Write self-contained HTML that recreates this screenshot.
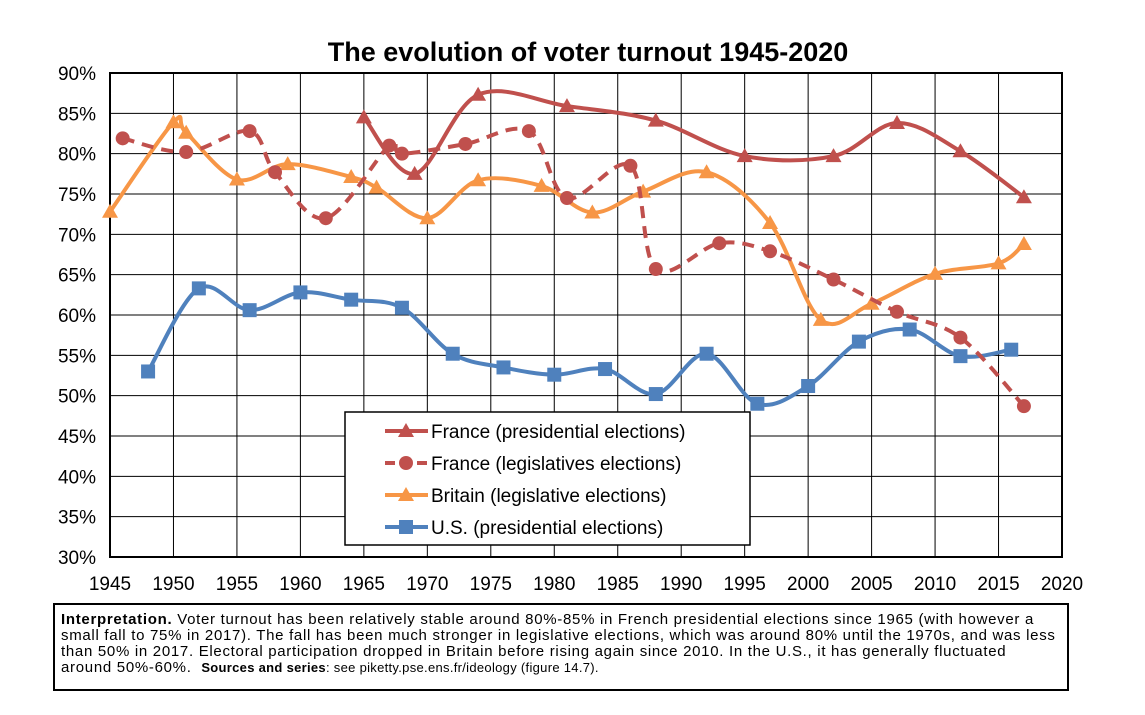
<!DOCTYPE html>
<html><head><meta charset="utf-8"><style>
body{margin:0;background:#fff;font-family:"Liberation Sans",Arial,sans-serif}
#wrap{position:relative;width:1145px;height:715px}
#note{position:absolute;left:53px;top:603px;width:1000px;height:74px;border:2px solid #000;padding:7px 6px 3px 6px;font-size:15px;line-height:16px;color:#000;white-space:nowrap;letter-spacing:0.7px}
</style></head><body>
<div id="wrap">
<svg id="chart" width="1145" height="600" style="position:absolute;left:0;top:0"></svg>
<div id="note"><b>Interpretation.</b> Voter turnout has been relatively stable around 80%-85% in French presidential elections since 1965 (with however a<br>small fall to 75% in 2017). The fall has been much stronger in legislative elections, which was around 80% until the 1970s, and was less<br>than 50% in 2017. Electoral participation dropped in Britain before rising again since 2010. In the U.S., it has generally fluctuated<br>around 50%-60%. &nbsp;<b style="font-size:13px;letter-spacing:0.3px">Sources and series</b><span style="font-size:13px;letter-spacing:0.3px">: see piketty.pse.ens.fr/ideology (figure 14.7).</span></div>
</div>
<script>
const frPresYears=[1965,1969,1974,1981,1988,1995,2002,2007,2012,2017];
const frPresVals=[84.5,77.5,87.3,85.9,84.1,79.7,79.7,83.8,80.3,74.6];
const frLegYears=[1946,1951,1956,1958,1962,1967,1968,1973,1978,1981,1986,1988,1993,1997,2002,2007,2012,2017];
const frLegVals=[81.9,80.2,82.8,77.7,72.0,81.0,80.0,81.2,82.8,74.5,78.5,65.7,68.9,67.9,64.4,60.4,57.2,48.7];
const brYears=[1945,1950,1951,1955,1959,1964,1966,1970,1974,1979,1983,1987,1992,1997,2001,2005,2010,2015,2017];
const brVals=[72.8,83.9,82.6,76.8,78.7,77.1,75.8,72.0,76.7,76.0,72.7,75.3,77.7,71.4,59.4,61.4,65.1,66.4,68.8];
const usYears=[1948,1952,1956,1960,1964,1968,1972,1976,1980,1984,1988,1992,1996,2000,2004,2008,2012,2016];
const usVals=[53.0,63.3,60.6,62.8,61.9,60.9,55.2,53.5,52.6,53.3,50.2,55.2,49.0,51.2,56.7,58.2,54.9,55.7];
const xTicks=[1945,1950,1955,1960,1965,1970,1975,1980,1985,1990,1995,2000,2005,2010,2015,2020];
const yTicks=[30,35,40,45,50,55,60,65,70,75,80,85,90];
const NS='http://www.w3.org/2000/svg';
const svg=document.getElementById('chart');
const X0=110,X1=1062,Y0=557,Y1=73;
const x=v=>X0+(v-1945)/(2020-1945)*(X1-X0);
const y=v=>Y0-(v-30)/(90-30)*(Y0-Y1);
function mk(t,a,p){const e=document.createElementNS(NS,t);for(const k in a)e.setAttribute(k,a[k]);(p||svg).appendChild(e);return e;}
yTicks.forEach(t=>{
 const l=mk('line',{x1:X0,x2:X1,y1:y(t),y2:y(t),stroke:'#000','stroke-width':1});
 
 
 const tx=mk('text',{x:96,y:y(t)+7,'text-anchor':'end','font-size':19});
 tx.textContent=t+'%';
 
 
});
xTicks.forEach(t=>{
 const l=mk('line',{x1:x(t),x2:x(t),y1:Y1,y2:Y0,stroke:'#000','stroke-width':1});
 
 
 const tx=mk('text',{x:x(t),y:590,'text-anchor':'middle','font-size':19});
 tx.textContent=t;
 
 
});
const fr=mk('rect',{x:X0,y:Y1,width:X1-X0,height:Y0-Y1,fill:'none',stroke:'#000','stroke-width':2});


const title=mk('text',{x:588,y:61,'text-anchor':'middle','font-size':27,'font-weight':'bold'});
title.textContent='The evolution of voter turnout 1945-2020';


function curve(pts){
 let d='M'+pts[0][0]+','+pts[0][1];
 for(let i=0;i<pts.length-1;i++){
  const p0=pts[i-1]||pts[i],p1=pts[i],p2=pts[i+1],p3=pts[i+2]||p2;
  const c1=[p1[0]+(p2[0]-p0[0])/6,p1[1]+(p2[1]-p0[1])/6];
  const c2=[p2[0]-(p3[0]-p1[0])/6,p2[1]-(p3[1]-p1[1])/6];
  d+=' C'+c1+' '+c2+' '+p2;
 }
 return d;
}
function marker(shape,cx,cy,col,name){
 let e;
 if(shape==='tri')e=mk('polygon',{points:`${cx},${cy-8} ${cx-8},${cy+6} ${cx+8},${cy+6}`,fill:col});
 else if(shape==='circ')e=mk('circle',{cx:cx,cy:cy,r:7,fill:col});
 else e=mk('rect',{x:cx-7,y:cy-7,width:14,height:14,fill:col});
 
 
}
function series(ys,vs,col,shape,dash,name){
 const pts=ys.map((t,i)=>[x(t),y(vs[i])]);
 const p=mk('path',{d:curve(pts),fill:'none',stroke:col,'stroke-width':4,'stroke-dasharray':dash||'none'});
 
 
 pts.forEach(q=>marker(shape,q[0],q[1],col,name+'-point'));
}
series(usYears,usVals,'#4f81bd','sq',null,'us-presidential');
series(brYears,brVals,'#f79646','tri',null,'britain-legislative');
series(frLegYears,frLegVals,'#c0504d','circ','12 8','france-legislative');
series(frPresYears,frPresVals,'#c0504d','tri',null,'france-presidential');
const lg=mk('rect',{x:345,y:412,width:405,height:133,fill:'#fff',stroke:'#000','stroke-width':1.5});


const legItems=[['France (presidential elections)','#c0504d','tri',null],['France (legislatives elections)','#c0504d','circ','10 6'],['Britain (legislative elections)','#f79646','tri',null],['U.S. (presidential elections)','#4f81bd','sq',null]];
legItems.forEach((it,i)=>{
 const yy=431+i*32;
 const l=mk('line',{x1:385,x2:428,y1:yy,y2:yy,stroke:it[1],'stroke-width':4,'stroke-dasharray':it[3]||'none'});
 
 
 marker(it[2],406,yy,it[1],'legend-marker');
 const t=mk('text',{x:431,y:yy+7,'font-size':19});
 t.textContent=it[0];
 
 
});
</script>
</body></html>
